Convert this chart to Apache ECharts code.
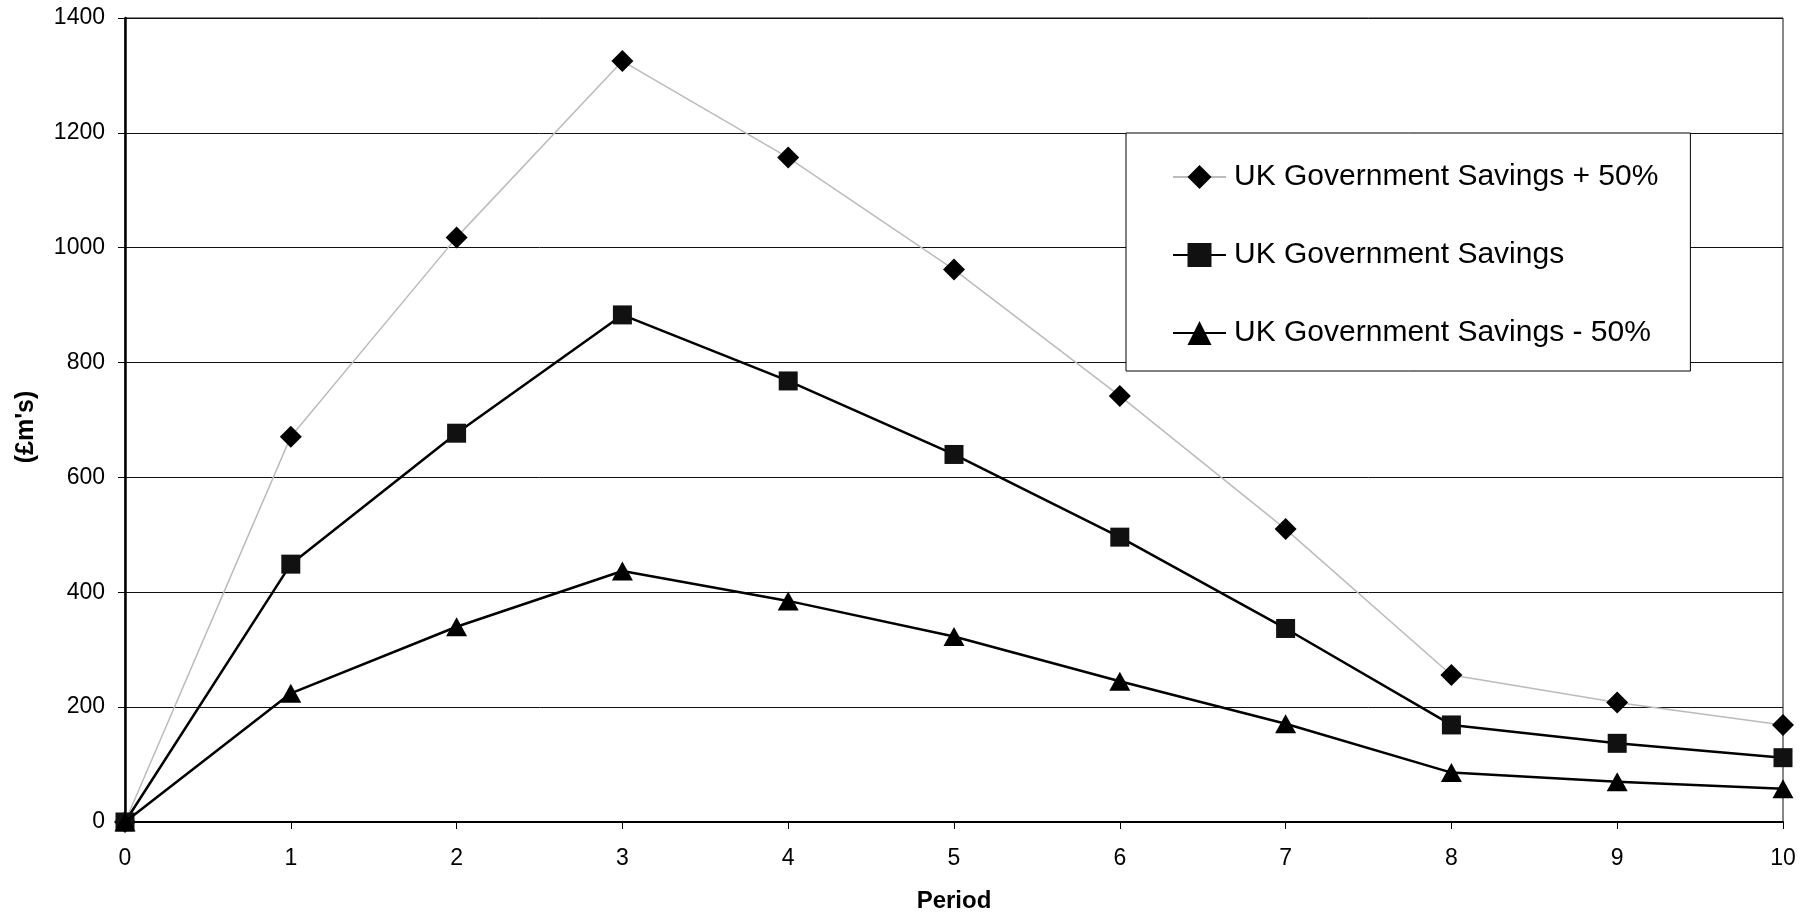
<!DOCTYPE html>
<html>
<head>
<meta charset="utf-8">
<script src="https://cdn.jsdelivr.net/npm/echarts@6/dist/echarts.min.js"></script>
<style>
html,body{margin:0;padding:0;background:#fff;}
#chart{width:1815px;height:918px;}
</style>
</head>
<body>
<div id="chart"></div>
<script>
var periods = [0, 1, 2, 3, 4, 5, 6, 7, 8, 9, 10];
var seriesNames = ['UK Government Savings + 50%', 'UK Government Savings', 'UK Government Savings - 50%'];
var plus50 = [0, 671, 1018, 1325, 1157, 962, 742, 510, 256, 208, 169];
var base = [0, 449, 677, 883, 768, 640, 496, 337, 169, 137, 112];
var minus50 = [0, 224, 340, 437, 385, 323, 245, 171, 86, 70, 58];

function pairs(vals) {
  return periods.map(function (p, i) { return [p, vals[i]]; });
}

var FONT = "'Liberation Sans', Arial, Helvetica, sans-serif";
var chart = echarts.init(document.getElementById('chart'), null, {renderer: 'canvas'});
chart.setOption({
  backgroundColor: '#fff',
  animation: false,
  textStyle: {fontFamily: FONT, color: '#000'},
  grid: {left: 125, right: 32, top: 18, bottom: 90, show: true, borderColor: '#111', borderWidth: 1, backgroundColor: 'transparent'},
  legend: {
    orient: 'vertical',
    left: 1126,
    top: 133,
    padding: [29, 32, 23, 46],
    itemWidth: 53,
    itemHeight: 30,
    itemGap: 48,
    backgroundColor: '#fff',
    borderColor: '#000',
    borderWidth: 1,
    textStyle: {fontSize: 30, color: '#000', fontFamily: FONT, padding: [0, 0, 0, 3]},
    data: seriesNames
  },
  xAxis: {
    type: 'value',
    min: 0,
    max: 10,
    interval: 1,
    name: 'Period',
    nameLocation: 'middle',
    nameGap: 67,
    nameTextStyle: {fontSize: 24, fontWeight: 'bold', color: '#000', fontFamily: FONT},
    axisLine: {show: true, onZero: false, lineStyle: {color: '#000', width: 2}},
    axisTick: {show: true, length: 7, lineStyle: {color: '#000', width: 1}},
    axisLabel: {fontSize: 23, color: '#000', margin: 25, fontFamily: FONT},
    splitLine: {show: false}
  },
  yAxis: {
    type: 'value',
    min: 0,
    max: 1400,
    interval: 200,
    name: "(£m's)",
    nameLocation: 'middle',
    nameGap: 86,
    nameRotate: 90,
    nameTextStyle: {fontSize: 25, fontWeight: 'bold', color: '#000', fontFamily: FONT, padding: [0, 14, 0, 0]},
    axisLine: {show: true, lineStyle: {color: '#000', width: 2.5}},
    axisTick: {show: true, length: 7, lineStyle: {color: '#000', width: 1}},
    axisLabel: {fontSize: 23, color: '#000', margin: 20, fontFamily: FONT, formatter: function (v) { return String(v); }},
    splitLine: {show: true, lineStyle: {color: '#111', width: 1}}
  },
  series: [
    {
      name: seriesNames[0],
      type: 'line',
      data: pairs(plus50),
      symbol: 'diamond',
      symbolSize: 22,
      lineStyle: {color: '#bbbbbb', width: 1.5},
      itemStyle: {color: '#000', borderWidth: 0},
      z: 3
    },
    {
      name: seriesNames[1],
      type: 'line',
      data: pairs(base),
      symbol: 'rect',
      symbolSize: 19,
      lineStyle: {color: '#000', width: 2.5},
      itemStyle: {color: '#111', borderWidth: 0},
      z: 4
    },
    {
      name: seriesNames[2],
      type: 'line',
      data: pairs(minus50),
      symbol: 'triangle',
      symbolSize: [21, 19],
      lineStyle: {color: '#000', width: 2.5},
      itemStyle: {color: '#000', borderWidth: 0},
      z: 5
    }
  ]
});
</script>
</body>
</html>
